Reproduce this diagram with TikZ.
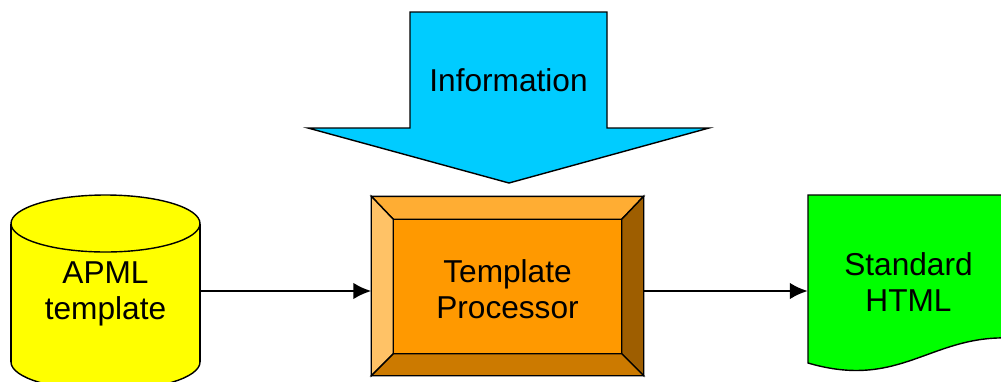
\documentclass[tikz,border=0pt]{standalone}
\usepackage{fontspec}
\setmainfont{Liberation Sans}
\usetikzlibrary{arrows.meta}
\definecolor{infoblue}{HTML}{00CCFF}
\definecolor{dbyellow}{HTML}{FFFF00}
\definecolor{docgreen}{HTML}{00FF00}
\definecolor{procmid}{HTML}{FF9900}
\definecolor{bevtop}{HTML}{FFAD33}
\definecolor{bevleft}{HTML}{FFC266}
\definecolor{bevright}{HTML}{9E5E00}
\definecolor{bevbot}{HTML}{CC7A00}
\begin{document}
\begin{tikzpicture}[x=0.03cm,y=-0.03cm,font=\fontsize{27}{31}\selectfont,>={Latex[length=0.54cm,width=0.5cm]}]
    \tikzset{
      outl/.style={draw=black,line width=1.2pt,line join=miter},
      lbl/.style={align=center,inner sep=0pt},
      conn/.style={->,line width=2pt}}
    \useasboundingbox (0,0) rectangle (1001,381);
    % big arrow on top
    \draw[outl,fill=infoblue] (410,12) -- (607,12) -- (607,128) -- (709,128) -- (509,183) -- (308,128) -- (410,128) -- cycle;
    \node[lbl] (info) at (508.5,80) {Information};
    % database cylinder
    \draw[outl,fill=dbyellow] (105.5,362) ellipse [x radius=94.5,y radius=28.5];
    \fill[dbyellow] (11,223.5) rectangle (200,362);
    \draw[outl] (11,223.5) -- (11,362) (200,223.5) -- (200,362);
    \draw[outl,fill=dbyellow] (105.5,223.5) ellipse [x radius=94.5,y radius=28.5];
    \node[lbl,minimum width=5.67cm] (apml) at (105.5,294) {APML\\template};
    % bevelled processor box
    \node[outl,fill=procmid,minimum width=8.13cm,minimum height=5.34cm,inner sep=0pt] (proc) at (507.5,286) {};
    \coordinate (pnw) at ([shift={(22,23)}]proc.north west);
    \coordinate (pne) at ([shift={(-22,23)}]proc.north east);
    \coordinate (pse) at ([shift={(-22,-22)}]proc.south east);
    \coordinate (psw) at ([shift={(22,-22)}]proc.south west);
    \foreach \a/\b/\c/\d/\col in {proc.north west/proc.north east/pne/pnw/bevtop,
                                  proc.north west/pnw/psw/proc.south west/bevleft,
                                  proc.north east/proc.south east/pse/pne/bevright,
                                  proc.south west/psw/pse/proc.south east/bevbot}
      \draw[outl,fill=\col] (\a) -- (\b) -- (\c) -- (\d) -- cycle;
    \draw[outl,fill=procmid] (pnw) rectangle (pse);
    \node[lbl] (proctext) at ([yshift=-0.09cm]proc.center) {Template\\Processor};
    % output document with wavy bottom
    \draw[outl,fill=docgreen] (808,195) -- (1010,195) -- (1010,338) .. controls (930,335) and (900,390) .. (808,363) -- cycle;
    \node[lbl,minimum width=6.03cm] (html) at (908.5,282) {Standard\\HTML};
    \draw[conn] (apml.east |- 0,291) -- (proc.west |- 0,291);
    \draw[conn] (proc.east |- 0,291) -- (html.west |- 0,291);
\end{tikzpicture}
\end{document}
